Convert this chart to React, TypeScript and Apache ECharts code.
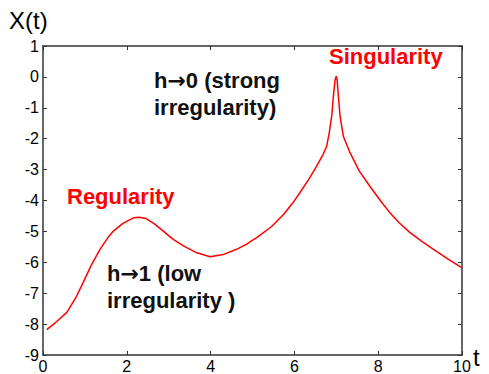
import React, { useEffect, useRef } from "react";
import * as echarts from "echarts";

const xTicks = [0, 2, 4, 6, 8, 10];
const yRange = [-9, 1];
const signal: [number, number][] = [
  [0.09, -8.18], [0.3, -7.95], [0.57, -7.62], [0.8, -7.1], [0.96, -6.65], [1.15, -6.1],
  [1.36, -5.58], [1.55, -5.2], [1.68, -4.99], [1.9, -4.75], [2.16, -4.56], [2.3, -4.54],
  [2.45, -4.58], [2.65, -4.75], [2.87, -4.99], [3.1, -5.25], [3.35, -5.47], [3.65, -5.68],
  [3.99, -5.82], [4.3, -5.75], [4.62, -5.58], [4.85, -5.42], [5.1, -5.2], [5.45, -4.85],
  [5.74, -4.45], [5.95, -4.1], [6.13, -3.75], [6.35, -3.3], [6.53, -2.89], [6.67, -2.55],
  [6.77, -2.25], [6.83, -1.82], [6.89, -1.28], [6.93, -0.63], [6.97, -0.1], [7.0, 0.02],
  [7.02, -0.1], [7.05, -0.63], [7.09, -1.28], [7.17, -1.93], [7.33, -2.46], [7.55, -3.05],
  [7.8, -3.54], [8.05, -4.0], [8.28, -4.4], [8.5, -4.72], [8.76, -5.04], [9.05, -5.33],
  [9.32, -5.58], [9.65, -5.88], [9.99, -6.17],
];

const FONT = "'Liberation Sans', Arial, sans-serif";

export default function App() {
  const ref = useRef<HTMLDivElement>(null);
  useEffect(() => {
    if (!ref.current) return;
    const chart = echarts.init(ref.current, undefined, { renderer: "svg" });
    const axisLine = { show: true, onZero: false, lineStyle: { color: "#333", width: 1.5 } };
    const tick = { show: true, inside: true, length: 4, lineStyle: { color: "#333", width: 1 } };
    const rich = {
      a: { fontSize: 22, fontWeight: "bold", fontFamily: "'DejaVu Sans', sans-serif", fill: "#111" },
    };
    chart.setOption({
      animation: false,
      grid: { left: 43, right: 27, top: 46, bottom: 18 },
      xAxis: [
        {
          type: "value", min: 0, max: 10, interval: 2,
          axisLine, axisTick: tick, splitLine: { show: false },
          axisLabel: { color: "#000", fontSize: 16, fontFamily: FONT, margin: 3 },
        },
        {
          type: "value", position: "top", min: 0, max: 10, interval: 2,
          axisLine, axisTick: tick, splitLine: { show: false }, axisLabel: { show: false },
        },
      ],
      yAxis: [
        {
          type: "value", min: yRange[0], max: yRange[1], interval: 1,
          axisLine, axisTick: tick, splitLine: { show: false },
          axisLabel: { color: "#000", fontSize: 16, fontFamily: FONT, margin: 4 },
        },
        {
          type: "value", position: "right", min: yRange[0], max: yRange[1], interval: 1,
          axisLine, axisTick: tick, splitLine: { show: false }, axisLabel: { show: false },
        },
      ],
      series: [
        {
          type: "line", data: signal, showSymbol: false, symbol: "none",
          lineStyle: { color: "#ff0000", width: 1.5 },
        },
      ],
      graphic: [
        { type: "text", left: 9, top: 8, style: { text: "X(t)", fontSize: 24, fontFamily: FONT, fill: "#000" } },
        { type: "text", left: 473, top: 345, style: { text: "t", fontSize: 24, fontFamily: FONT, fill: "#000" } },
        { type: "text", left: 329, top: 45, style: { text: "Singularity", fontSize: 22, fontWeight: "bold", fontFamily: FONT, fill: "#ff0000" } },
        { type: "text", left: 67, top: 185, style: { text: "Regularity", fontSize: 22, fontWeight: "bold", fontFamily: FONT, fill: "#ff0000" } },
        { type: "text", left: 154, top: 67, style: { text: "h{a|→}0 (strong\nirregularity)", rich, fontSize: 22, lineHeight: 27, fontWeight: "bold", fontFamily: FONT, fill: "#111" } },
        { type: "text", left: 107, top: 260, style: { text: "h{a|→}1 (low\nirregularity )", rich, fontSize: 22, lineHeight: 27, fontWeight: "bold", fontFamily: FONT, fill: "#111" } },
      ],
    });
    return () => chart.dispose();
  }, []);
  return <div ref={ref} style={{ width: 489, height: 374, position: "absolute", left: 0, top: 0 }} />;
}
